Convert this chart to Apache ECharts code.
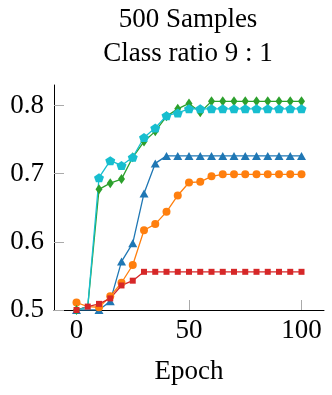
<!DOCTYPE html>
<html>
<head>
<meta charset="utf-8">
<script src="https://cdn.jsdelivr.net/npm/echarts@6/dist/echarts.min.js"></script>
<style>
    html, body { margin: 0; padding: 0; background: #fff; }
    #chart { width: 332px; height: 395px; }
</style>
</head>
<body>
<div id="chart"></div>
<script>
// 数据
var epochs = [0, 5, 10, 15, 20, 25, 30, 35, 40, 45, 50, 55, 60, 65, 70, 75, 80, 85, 90, 95, 100]
var blueVals = [0.500, 0.500, 0.500, 0.513, 0.571, 0.598, 0.671, 0.715, 0.726, 0.726, 0.726, 0.726, 0.726, 0.726, 0.726, 0.726, 0.726, 0.726, 0.726, 0.726, 0.726]
var orangeVals = [0.511, 0.505, 0.504, 0.520, 0.540, 0.566, 0.617, 0.626, 0.644, 0.668, 0.687, 0.688, 0.696, 0.699, 0.699, 0.699, 0.699, 0.699, 0.699, 0.699, 0.699]
var greenVals = [0.500, 0.505, 0.677, 0.686, 0.692, 0.724, 0.747, 0.762, 0.784, 0.795, 0.803, 0.790, 0.806, 0.806, 0.806, 0.806, 0.806, 0.806, 0.806, 0.806, 0.806]
var redVals = [0.500, 0.505, 0.509, 0.517, 0.536, 0.543, 0.556, 0.556, 0.556, 0.556, 0.556, 0.556, 0.556, 0.556, 0.556, 0.556, 0.556, 0.556, 0.556, 0.556, 0.556]
var cyanVals = [0.499, 0.505, 0.694, 0.719, 0.712, 0.724, 0.753, 0.767, 0.785, 0.789, 0.795, 0.795, 0.795, 0.795, 0.795, 0.795, 0.795, 0.795, 0.795, 0.795, 0.795]
var xTicks = [0, 50, 100]
var yTicks = [0.5, 0.6, 0.7, 0.8]
var titleLines = ['500 Samples', 'Class ratio 9 : 1']

var font = '"Liberation Serif", "DejaVu Serif", serif'
var pentagon = 'path://M0,-1 L0.951,-0.309 L0.588,0.809 L-0.588,0.809 L-0.951,-0.309 Z'

function pairs (vals) {
    return epochs.map(function (e, i) { return [e, vals[i]] })
}

// epoch 5 的标记在原图中看不到（被红色方块盖住）
function makeSeries (vals, color, symbol, size, hideFirstStep) {
    return {
        type: 'line',
        data: pairs(vals),
        symbol: symbol,
        symbolSize: function (v, params) {
            return (hideFirstStep && params.dataIndex === 1) ? 0 : size
        },
        showSymbol: true,
        animation: false,
        itemStyle: { color: color },
        lineStyle: { color: color, width: 1.3 }
    }
}

var myChart = echarts.init(document.getElementById('chart'))
var option = {
    animation: false,
    graphic: [
        { type: 'text', x: 188, y: 20, style: { text: titleLines[0], font: '27px ' + font, fill: '#000', align: 'center', verticalAlign: 'middle' } },
        { type: 'text', x: 188, y: 54, style: { text: titleLines[1], font: '27px ' + font, fill: '#000', align: 'center', verticalAlign: 'middle' } }
    ],
    grid: {
        left: 54,
        right: 8,
        top: 85,
        bottom: 85
    },
    xAxis: {
        type: 'value',
        min: -10,
        max: 110,
        name: 'Epoch',
        nameLocation: 'middle',
        nameGap: 48,
        nameTextStyle: { fontFamily: font, fontSize: 27, color: '#000' },
        axisLine: { onZero: false, lineStyle: { color: '#000', width: 1 } },
        axisTick: { show: true, inside: true, length: 10, customValues: xTicks, lineStyle: { color: '#aaa' } },
        axisLabel: { customValues: xTicks, fontFamily: font, fontSize: 27, color: '#000', margin: 7 },
        splitLine: { show: false }
    },
    yAxis: {
        type: 'value',
        min: 0.5,
        max: 0.83,
        axisLine: { show: true, onZero: false, lineStyle: { color: '#000', width: 1 } },
        axisTick: { show: true, inside: true, length: 10, customValues: yTicks, lineStyle: { color: '#aaa' } },
        axisLabel: {
            customValues: yTicks,
            fontFamily: font,
            fontSize: 27,
            color: '#000',
            margin: 10,
            formatter: function (v) { return v.toFixed(1) }
        },
        splitLine: { show: false }
    },
    series: [
        makeSeries(blueVals, '#1f77b4', 'triangle', [9, 8], true),
        makeSeries(orangeVals, '#ff7f0e', 'circle', 8, true),
        makeSeries(greenVals, '#2ca02c', 'diamond', [7, 10], true),
        makeSeries(redVals, '#d62728', 'rect', 6, false),
        makeSeries(cyanVals, '#17becf', pentagon, [10, 9], true)
    ]
}
myChart.setOption(option)
</script>
</body>
</html>
